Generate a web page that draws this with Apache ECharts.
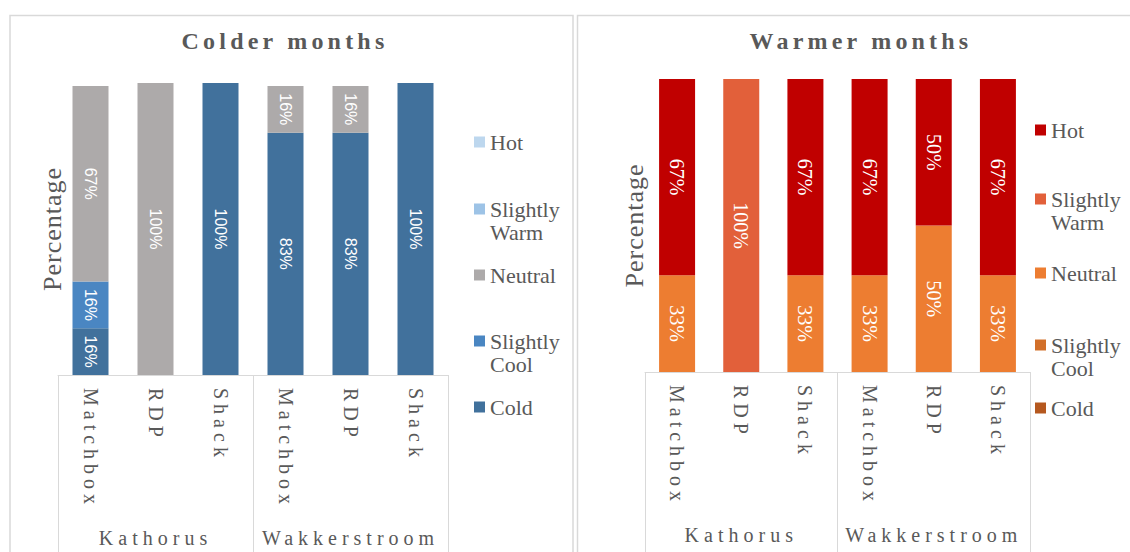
<!DOCTYPE html>
<html>
<head>
<meta charset="utf-8">
<script src="https://cdn.jsdelivr.net/npm/echarts@6/dist/echarts.min.js"></script>
<style>
  html, body { margin: 0; padding: 0; background: #ffffff; }
  #main { width: 1130px; height: 552px; }
</style>
</head>
<body>
<div id="main"></div>
<script>
// ---------------- DATA ----------------
const categories = ['Matchbox', 'RDP', 'Shack', 'Matchbox', 'RDP', 'Shack'];
const groups = ['Kathorus', 'Wakkerstroom'];
const sensationNames = ['Cold', 'Slightly Cool', 'Neutral', 'Slightly Warm', 'Hot'];

// Colder months (%)
const colderCold         = [16, 0, 100, 83, 83, 100];
const colderSlightlyCool = [16, 0, 0, 0, 0, 0];
const colderNeutral      = [67, 100, 0, 16, 16, 0];
const colderSlightlyWarm = [0, 0, 0, 0, 0, 0];
const colderHot          = [0, 0, 0, 0, 0, 0];

// Warmer months (%)
const warmerCold         = [0, 0, 0, 0, 0, 0];
const warmerSlightlyCool = [0, 0, 0, 0, 0, 0];
const warmerNeutral      = [33, 0, 33, 33, 50, 33];
const warmerSlightlyWarm = [0, 100, 0, 0, 0, 0];
const warmerHot          = [67, 0, 67, 67, 50, 67];

const colderTitle = 'Colder months';
const warmerTitle = 'Warmer months';
const yName = 'Percentage';

// ---------------- STYLE ----------------
// order: Cold, Slightly Cool, Neutral, Slightly Warm, Hot
const colderColors = ['#41719C', '#4A86C2', '#ADAAAA', '#9DC3E6', '#BDD7EE'];
const warmerColors = ['#B5581F', '#D2702A', '#ED7D31', '#E2603A', '#C00000'];
const SERIF = "Liberation Serif, serif";
const SANS = "Liberation Sans, sans-serif";
const TXT = '#595959';
const BORDER = '#D9D9D9';

const SPACING = {
  'Colder months': 4.2, 'Warmer months': 4.2,
  'Matchbox': 5, 'RDP': 5, 'Shack': 5,
  'Kathorus': 5, 'Wakkerstroom': 5,
  'Percentage': 1
};

const colderData = [colderCold, colderSlightlyCool, colderNeutral, colderSlightlyWarm, colderHot];
const warmerData = [warmerCold, warmerSlightlyCool, warmerNeutral, warmerSlightlyWarm, warmerHot];

const LEG_LH = 23;
const layout = {
  left:  { grid: { left: 58, right: 682, top: 83, bottom: 177 }, titleX: 285, nameGap: -7,
           legendX: 474, legendY: { 'Hot': 142, 'Slightly Warm': 209, 'Neutral': 275, 'Slightly Cool': 341, 'Cold': 407 } },
  right: { grid: { left: 645, right: 100, top: 79, bottom: 180 }, titleX: 861, nameGap: -2,
           legendX: 1035, legendY: { 'Hot': 130, 'Slightly Warm': 199, 'Neutral': 273, 'Slightly Cool': 345, 'Cold': 408 } }
};

function pctFormatter(p) { return p.value ? p.value + '%' : ''; }

function buildSeries(dataArr, colors, gridIdx, stack, labelFont, labelSize) {
  return sensationNames.map((name, i) => ({
    name: name,
    type: 'bar',
    stack: stack,
    xAxisIndex: gridIdx * 2,
    yAxisIndex: gridIdx,
    barWidth: 36,
    data: dataArr[i],
    itemStyle: { color: colors[i] },
    label: {
      show: true,
      position: 'inside',
      rotate: -90,
      color: '#ffffff',
      fontFamily: labelFont,
      fontSize: labelSize,
      formatter: pctFormatter
    },
    emphasis: { disabled: true }
  }));
}

function buildLegends(conf, colors) {
  const legends = [];
  sensationNames.forEach((name, i) => {
    const twoLine = name.indexOf(' ') > 0;
    const cy = conf.legendY[name];
    legends.push({
      orient: 'vertical',
      left: conf.legendX,
      // two-line entries get an empty first line so that the first word sits level with the icon
      top: twoLine ? cy - LEG_LH * 1.5 : cy - LEG_LH / 2,
      padding: 0,
      itemWidth: 11,
      itemHeight: 11,
      itemGap: 0,
      icon: 'rect',
      selectedMode: false,
      data: [{ name: name, itemStyle: { color: colors[i] } }],
      formatter: n => twoLine ? '\n' + n.replace(' ', '\n') : n,
      textStyle: { fontFamily: SERIF, fontSize: 22, color: TXT, lineHeight: LEG_LH }
    });
  });
  return legends;
}

function xAxesFor(gridIdx, gridConf) {
  const plotBottom = 552 - gridConf.bottom;
  return [
    {
      type: 'category', gridIndex: gridIdx, position: 'bottom', data: categories,
      axisLine: { show: false }, axisTick: { show: false },
      axisLabel: { interval: 0, rotate: -90, margin: 13, fontFamily: SERIF, fontSize: 20, color: TXT }
    },
    {
      type: 'category', gridIndex: gridIdx, position: 'bottom', data: groups,
      axisLine: { show: true, lineStyle: { color: BORDER, width: 1 } },
      axisTick: { show: true, interval: 0, length: 552 - plotBottom, lineStyle: { color: BORDER, width: 1 } },
      axisLabel: { interval: 0, margin: 153, fontFamily: SERIF, fontSize: 20, color: TXT }
    }
  ];
}

function yAxisFor(gridIdx, nameGap) {
  return {
    type: 'value', gridIndex: gridIdx, min: 0, max: 100,
    axisLine: { show: false }, axisTick: { show: false }, axisLabel: { show: false },
    splitLine: { show: false },
    name: yName, nameLocation: 'middle', nameRotate: 90, nameGap: nameGap,
    nameTextStyle: { fontFamily: SERIF, fontSize: 26, color: TXT }
  };
}

const option = {
  backgroundColor: '#ffffff',
  animation: false,
  title: [
    { text: colderTitle, left: layout.left.titleX, top: 29, textAlign: 'center', padding: 0,
      textStyle: { fontFamily: SERIF, fontSize: 24, fontWeight: 'bold', color: TXT } },
    { text: warmerTitle, left: layout.right.titleX, top: 29, textAlign: 'center', padding: 0,
      textStyle: { fontFamily: SERIF, fontSize: 24, fontWeight: 'bold', color: TXT } }
  ],
  grid: [
    Object.assign({ outerBoundsMode: 'none', containLabel: false }, layout.left.grid),
    Object.assign({ outerBoundsMode: 'none', containLabel: false }, layout.right.grid)
  ],
  xAxis: xAxesFor(0, layout.left.grid).concat(xAxesFor(1, layout.right.grid)),
  yAxis: [yAxisFor(0, layout.left.nameGap), yAxisFor(1, layout.right.nameGap)],
  legend: buildLegends(layout.left, colderColors).concat(buildLegends(layout.right, warmerColors)),
  graphic: [
    { type: 'rect', shape: { x: 10, y: 15.5, width: 563, height: 600 }, silent: true,
      style: { fill: 'none', stroke: BORDER, lineWidth: 1.5 } },
    { type: 'rect', shape: { x: 577.5, y: 15.5, width: 620, height: 600 }, silent: true,
      style: { fill: 'none', stroke: BORDER, lineWidth: 1.5 } }
  ],
  series: buildSeries(colderData, colderColors, 0, 'colder', SANS, 16)
    .concat(buildSeries(warmerData, warmerColors, 1, 'warmer', SERIF, 20))
};

const chart = echarts.init(document.getElementById('main'), null, { renderer: 'svg' });

function applySpacing() {
  document.querySelectorAll('#main svg text').forEach(t => {
    const s = SPACING[t.textContent];
    if (s != null) {
      t.setAttribute('letter-spacing', s + 'px');
      t.style.letterSpacing = s + 'px';
    }
  });
}
chart.on('finished', applySpacing);
chart.setOption(option);
applySpacing();
</script>
</body>
</html>
